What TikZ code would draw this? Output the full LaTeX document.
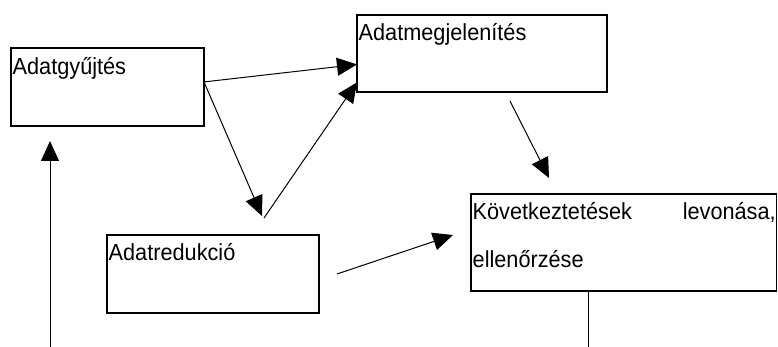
\documentclass[tikz,border=0pt]{standalone}
\usepackage{graphicx}
\usepackage{fontspec}
\setmainfont{Liberation Sans}
\usetikzlibrary{arrows.meta,calc}

\newcommand{\tall}[1]{\scalebox{1}[1.07]{#1}}

\begin{document}
\begin{tikzpicture}[x=1pt,y=-1pt,
		box/.style={draw,line width=1.3pt,inner sep=0pt,outer sep=0pt,anchor=north west},
		lbl/.style={inner sep=0pt,anchor=base west,font=\fontsize{21.7}{26}\selectfont},
		arr/.style={line width=1pt,-{Triangle[length=20pt,width=18pt]}}]
		\useasboundingbox (0,0) rectangle (778,347);
		% boxes
		\node[box,minimum width=193pt,minimum height=78pt] (gyujt) at (11,48) {};
		\node[box,minimum width=250pt,minimum height=77pt] (megj) at (357,15) {};
		\node[box,minimum width=212pt,minimum height=78pt] (redu) at (107,235) {};
		\node[box,minimum width=305.5pt,minimum height=97pt] (kovet) at (471,194) {};
		% texts
		\node[lbl] (tgyujt) at ($(gyujt.north west)+(1.5,27)$) {\tall{Adatgyűjtés}};
		\node[lbl] (tmegj) at ($(megj.north west)+(1.5,26)$) {\tall{Adatmegjelenítés}};
		\node[lbl] (tredu) at ($(redu.north west)+(1.5,25)$) {\tall{Adatredukció}};
		\node[lbl] (tkovet1) at ($(kovet.north west)+(1.5,26)$) {\tall{\makebox[303pt][l]{Következtetések\hfill levonása,}}};
		\node[lbl] (tkovet2) at ($(kovet.north west)+(1.5,73)$) {\tall{ellenőrzése}};
		% free ends
		\coordinate (vin) at (262,216);
		\coordinate (vout) at (264,218);
		\coordinate (mout) at (510,101);
		\coordinate (kin) at (549,178);
		\coordinate (rout) at (337,274);
		\coordinate (kin2) at (453,235);
		\coordinate (kend) at (588,350);
		\coordinate (gstart) at (50,350);
		\coordinate (gin) at (50,141);
		% connectors
		\draw[arr] (gyujt.3)--(megj.185);
		\draw[arr] (gyujt.3)--(vin);
		\draw[arr] (vout)--(megj.193);
		\draw[arr] (mout)--(kin);
		\draw[arr] (rout)--(kin2);
		\draw[line width=1pt] ($(kovet.south west)+(117,0)$)--(kend);
		\draw[arr] (gstart)--(gin);
	\end{tikzpicture}
\end{document}
